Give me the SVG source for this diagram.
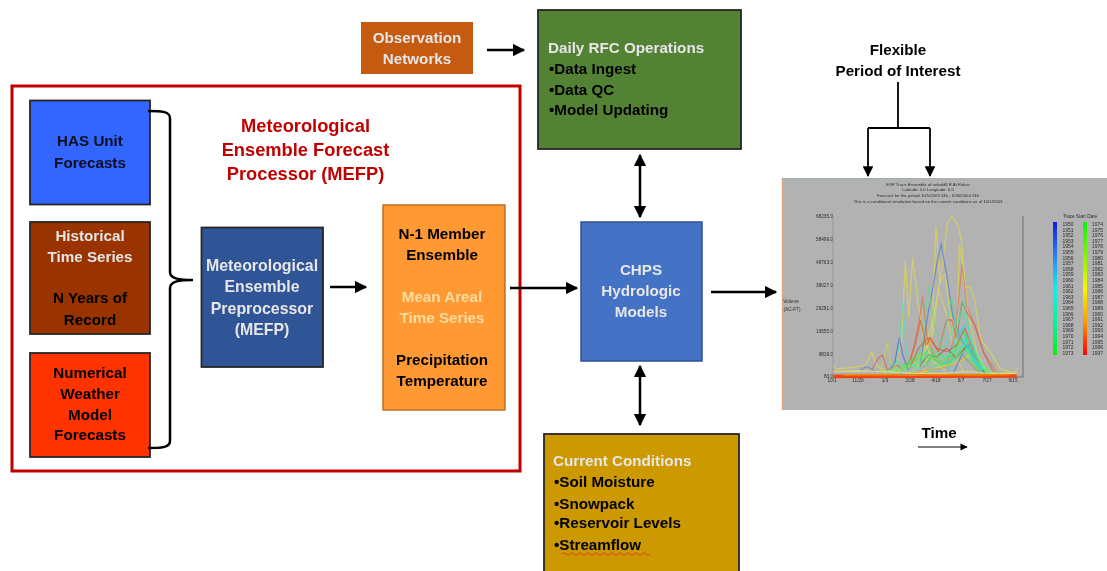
<svg xmlns="http://www.w3.org/2000/svg" width="1107" height="571" viewBox="0 0 1107 571">
<style>
text{font-family:"Liberation Sans",Arial,sans-serif;font-weight:700;font-size:15.2px;text-anchor:middle;fill:#000}
.w{fill:#e6e6e6}.b{fill:#0a1020}.red{fill:#c00000;font-size:18.300px}.m{font-size:15.900px}.o{fill:#ffdca0}
.l{text-anchor:start}
.box{stroke:#262626;stroke-width:1.800}
.c{fill:none;stroke:#000;stroke-width:2.500}
.t{font-weight:400;fill:#2c2c2c;font-size:4.250px}
.s{font-weight:400;fill:#2c2c2c;font-size:4.700px}
.e{text-anchor:end}
.y{font-weight:400;fill:#2c2c2c;font-size:5px;text-anchor:start}
.tr polyline{fill:none;stroke-width:3.800;stroke-opacity:.6;stroke-linejoin:round}
</style>
<defs>
<marker id="a" viewBox="0 0 10 10" refX="9" refY="5" markerWidth="5" markerHeight="5" orient="auto-start-reverse"><path d="M0 0L10 5L0 10z" fill="#000"/></marker>
<marker id="a2" viewBox="0 0 10 10" refX="9" refY="5" markerWidth="7" markerHeight="6" orient="auto"><path d="M0 0L10 5L0 10z" fill="#000"/></marker>
<linearGradient id="g1" x1="0" y1="0" x2="0" y2="1"><stop offset="0" stop-color="#0a1ee0"/><stop offset=".25" stop-color="#2a80f0"/><stop offset=".5" stop-color="#10f0f0"/><stop offset=".75" stop-color="#10f0a0"/><stop offset="1" stop-color="#10f010"/></linearGradient>
<linearGradient id="g2" x1="0" y1="0" x2="0" y2="1"><stop offset="0" stop-color="#10f010"/><stop offset=".5" stop-color="#f5f500"/><stop offset=".75" stop-color="#ff9a00"/><stop offset="1" stop-color="#ff0000"/></linearGradient>
<filter id="blur" x="-5%" y="-5%" width="110%" height="110%"><feGaussianBlur stdDeviation=".5"/></filter>
<filter id="soft" x="-5%" y="-20%" width="110%" height="140%"><feGaussianBlur stdDeviation=".3"/></filter>
</defs>

<g id="frame-mefp"><rect x="12" y="86" width="508" height="385" fill="#fff" stroke="#c00000" stroke-width="3"/>
<g filter="url(#soft)"><text class="red" x="305.500" y="132">Meteorological</text><text class="red" x="305.500" y="156">Ensemble Forecast</text><text class="red" x="305.500" y="180">Processor (MEFP)</text></g></g>

<g id="node-has"><rect class="box" x="30" y="100.500" width="120" height="104" fill="#3366ff"/>
<g filter="url(#soft)"><text class="b" x="90" y="146">HAS Unit</text><text class="b" x="90" y="168">Forecasts</text></g></g>

<g id="node-historical"><rect class="box" x="30" y="222" width="120" height="112" fill="#993300"/>
<g filter="url(#soft)"><text class="w" x="90" y="241">Historical</text><text class="w" x="90" y="262">Time Series</text><text x="90" y="303">N Years of</text><text x="90" y="325">Record</text></g></g>

<g id="node-nwp"><rect class="box" x="30" y="353" width="120" height="104" fill="#ff3300"/>
<g filter="url(#soft)"><text x="90" y="378">Numerical</text><text x="90" y="399">Weather</text><text x="90" y="420">Model</text><text x="90" y="440">Forecasts</text></g></g>

<g id="node-preprocessor"><rect class="box" x="201.500" y="227.500" width="121.500" height="139.500" fill="#2f5597"/>
<g filter="url(#soft)"><text class="w m" x="262" y="271">Meteorological</text><text class="w m" x="262" y="292">Ensemble</text><text class="w m" x="262" y="314">Preprocessor</text><text class="w m" x="262" y="335">(MEFP)</text></g></g>

<g id="node-ensemble"><rect x="383" y="205" width="122" height="205" fill="#ff9933" stroke="#bf7020" stroke-width="1.500"/>
<g filter="url(#soft)"><text x="442" y="239">N-1 Member</text><text x="442" y="260">Ensemble</text><text class="o" x="442" y="302">Mean Areal</text><text class="o" x="442" y="323">Time Series</text><text x="442" y="365">Precipitation</text><text x="442" y="386">Temperature</text></g></g>

<g id="node-chps"><rect x="581" y="222" width="121" height="139" fill="#4472c4" stroke="#2f528f" stroke-width="1.500"/>
<g filter="url(#soft)"><text class="w" x="641" y="275">CHPS</text><text class="w" x="641" y="296">Hydrologic</text><text class="w" x="641" y="317">Models</text></g></g>

<g id="node-observation"><rect x="361" y="22" width="112" height="52" fill="#c55a11"/>
<g filter="url(#soft)"><text class="w" x="417" y="43">Observation</text><text class="w" x="417" y="64">Networks</text></g></g>

<g id="node-daily"><rect class="box" x="538" y="10" width="203" height="139" fill="#548235"/>
<g filter="url(#soft)"><text class="w l" x="548" y="53">Daily RFC Operations</text><text class="l" x="549" y="74">•Data Ingest</text><text class="l" x="549" y="95">•Data QC</text><text class="l" x="549" y="115">•Model Updating</text></g></g>

<g id="node-current"><rect class="box" x="544" y="434" width="195" height="140" fill="#cc9900"/>
<g filter="url(#soft)"><text class="w l" x="553" y="466">Current Conditions</text><text class="l" x="554" y="487">•Soil Moisture</text><text class="l" x="554" y="509">•Snowpack</text><text class="l" x="554" y="528">•Reservoir Levels</text><text class="l" x="554" y="550">•Streamflow</text></g>
<path d="M562 554q2-2.500 4 0t4 0t4 0t4 0t4 0t4 0t4 0t4 0t4 0t4 0t4 0t4 0t4 0t4 0t4 0t4 0t4 0t4 0t4 0t4 0t4 0t4 0" fill="none" stroke="#e0402a" stroke-width="1"/></g>

<g id="chart">
<rect x="782" y="178" width="325" height="232" fill="#b2b2b2"/>
<path d="M782.500 410V178" stroke="#d8a884" stroke-width="1.500" fill="none"/>
<path d="M782 178.500H918" stroke="#a0b0b2" stroke-width="1" fill="none"/>
<g filter="url(#blur)">
<text class="t" x="928" y="186">ESP Trace Ensemble of unbold6 R At Palisa</text>
<text class="t" x="928" y="191">Latitude: 0.0    Longitude: 0.0</text>
<text class="t" x="928" y="197">Forecast for the period 10/1/2003 24h - 9/30/2004 24h</text>
<text class="t" x="928" y="202.500">This is a conditional simulation based on the current conditions as of 10/1/2003</text>
<text class="s e" x="833" y="218">68235.0</text><text class="s e" x="833" y="241">58499.0</text><text class="s e" x="833" y="264">48763.0</text><text class="s e" x="833" y="287">39027.0</text><text class="s e" x="833" y="310">29291.0</text><text class="s e" x="833" y="333">19555.0</text><text class="s e" x="833" y="356">9819.0</text><text class="s e" x="833" y="378">83.0</text>
<text class="s" x="791" y="303">Volume</text><text class="s" x="792" y="311">(AC-FT)</text>
<text class="s" x="832" y="382">10/1</text><text class="s" x="858" y="382">11/20</text><text class="s" x="885" y="382">1/9</text><text class="s" x="910" y="382">2/28</text><text class="s" x="936" y="382">4/18</text><text class="s" x="961" y="382">6/7</text><text class="s" x="987" y="382">7/27</text><text class="s" x="1013" y="382">9/15</text>
<path d="M833 216V377" fill="none" stroke="#909090" stroke-width=".8"/>
<path d="M1023 216V377H833" fill="none" stroke="#868686" stroke-width="1.500"/>
<g class="tr" transform="translate(800 205) scale(.33333)">
<polyline stroke="#e6e040" points="100,482 108,492 130,490 170,486 198,480 215,440 230,482 260,500 300,495 340,482 370,440 398,350 425,200 442,55 455,35 475,62 487,125 490,250 510,245 525,290 542,405 572,442 600,490 640,505 655,490"/>
<polyline stroke="#e6e040" points="285,495 305,400 316,170 326,335 338,160 354,292 372,405 400,470 440,500"/>
<polyline stroke="#e6e040" points="372,500 395,400 408,65 420,232 435,205 450,320 470,420 478,120 492,200 505,330 530,440 560,500"/>
<polyline stroke="#d8e050" points="355,490 400,380 415,250 440,330 462,440 490,500"/>
<polyline stroke="#b8e040" points="240,500 250,470 261,412 272,470 290,500"/>
<polyline stroke="#3f6fe0" points="360,485 385,320 396,265 410,180 423,115 440,210 458,330 482,402 510,442 540,490 570,505"/>
<polyline stroke="#2f5ce0" points="268,495 285,470 298,398 308,450 325,495"/>
<polyline stroke="#5080e0" points="180,495 200,485 225,498"/>
<polyline stroke="#e66a30" points="330,480 358,345 368,275 382,400 400,450 430,480"/>
<polyline stroke="#e06a50" points="440,480 465,390 486,180 500,300 520,350 552,445 590,500"/>
<polyline stroke="#ea4a20" points="320,490 345,420 362,345 378,420 392,398 415,440 440,345 455,345 470,400 486,292 505,330 525,360 550,440 580,500"/>
<polyline stroke="#e05040" points="215,495 235,460 247,450 262,495 290,480 310,495"/>
<polyline stroke="#40e0d0" points="285,495 298,420 308,290 320,450 345,495"/>
<polyline stroke="#50e090" points="340,495 370,400 385,245 400,340 420,430 445,330 455,275 470,380 490,285 515,420 550,490"/>
<polyline stroke="#30f0b0" points="350,500 380,440 410,470 440,410 470,350 490,320 510,390 530,460 560,505"/>
<polyline stroke="#20e0f0" points="420,500 460,420 480,370 500,400 520,470 550,505"/>
<polyline stroke="#20d0e8" points="440,505 475,400 492,360 510,440 540,500"/>
<polyline stroke="#30f080" points="260,500 290,470 320,490 350,450 380,470 410,440 440,460 470,420 500,440 530,490 570,505"/>
<polyline stroke="#50f050" points="300,505 340,460 370,440 395,470 420,450 450,470 480,400 510,460 545,505"/>
<polyline stroke="#40f030" points="280,505 320,475 360,460 390,430 420,470 460,450 490,380 520,450 560,500"/>
<polyline stroke="#a0f040" points="330,505 365,470 400,455 430,480 465,460 495,420 530,480 570,505"/>
<polyline stroke="#e8e020" points="360,505 400,490 440,480 480,470 510,450 540,480 580,505"/>
<polyline stroke="#f0a020" points="340,505 380,495 420,490 460,480 490,460 520,480 550,505"/>
<polyline stroke="#e05020" points="330,490 355,430 385,398 410,430 440,440 470,420 495,370 520,440 545,495"/>
<polyline stroke="#c04020" points="360,480 385,450 410,455 440,430 470,460 500,420 530,475 555,505"/>
<polyline stroke="#40c070" points="370,490 395,455 425,480 450,470 480,440 505,470 540,505"/>
<polyline stroke="#2080d0" points="460,505 490,440 505,420 525,470 555,505"/>
<polyline stroke="#30f0a0" points="300,500 345,480 390,450 430,455 470,440 510,400 540,470 570,505"/>
<polyline stroke="#60f060" points="250,505 300,490 350,475 400,480 450,480 500,430 540,490 590,505"/>
<polyline stroke="#20e8c0" points="380,505 420,475 460,470 490,420 520,440 545,495"/>
<polyline stroke="#f0f060" points="100,500 170,498 250,500 340,505 420,505 500,500 580,505 650,505"/>
<polyline stroke="#30e0e0" style="stroke-width:10" points="490,400 505,430 525,470 550,495"/>
<polyline stroke="#ff3a00" style="stroke-width:11;stroke-opacity:.9" points="100,514 650,513"/>
<polyline stroke="#f09000" style="stroke-width:4;stroke-opacity:.9" points="130,510 240,509 330,511 420,509 520,510 630,509"/>
</g>
<text class="s" x="1080" y="218">Trace Start Date</text>
<rect x="1053" y="222" width="4" height="133" fill="url(#g1)"/>
<rect x="1083" y="222" width="4" height="133" fill="url(#g2)"/>
<g>
<text class="y" x="1062.500" y="226">1950</text><text class="y" x="1062.500" y="231.600">1951</text><text class="y" x="1062.500" y="237.200">1952</text><text class="y" x="1062.500" y="242.800">1953</text><text class="y" x="1062.500" y="248.400">1954</text><text class="y" x="1062.500" y="254">1955</text><text class="y" x="1062.500" y="259.600">1956</text><text class="y" x="1062.500" y="265.200">1957</text><text class="y" x="1062.500" y="270.800">1958</text><text class="y" x="1062.500" y="276.400">1959</text><text class="y" x="1062.500" y="282">1960</text><text class="y" x="1062.500" y="287.600">1961</text><text class="y" x="1062.500" y="293.200">1962</text><text class="y" x="1062.500" y="298.800">1963</text><text class="y" x="1062.500" y="304.400">1964</text><text class="y" x="1062.500" y="310">1965</text><text class="y" x="1062.500" y="315.600">1966</text><text class="y" x="1062.500" y="321.200">1967</text><text class="y" x="1062.500" y="326.800">1968</text><text class="y" x="1062.500" y="332.400">1969</text><text class="y" x="1062.500" y="338">1970</text><text class="y" x="1062.500" y="343.600">1971</text><text class="y" x="1062.500" y="349.200">1972</text><text class="y" x="1062.500" y="354.800">1973</text>
<text class="y" x="1092" y="226">1974</text><text class="y" x="1092" y="231.600">1975</text><text class="y" x="1092" y="237.200">1976</text><text class="y" x="1092" y="242.800">1977</text><text class="y" x="1092" y="248.400">1978</text><text class="y" x="1092" y="254">1979</text><text class="y" x="1092" y="259.600">1980</text><text class="y" x="1092" y="265.200">1981</text><text class="y" x="1092" y="270.800">1982</text><text class="y" x="1092" y="276.400">1983</text><text class="y" x="1092" y="282">1984</text><text class="y" x="1092" y="287.600">1985</text><text class="y" x="1092" y="293.200">1986</text><text class="y" x="1092" y="298.800">1987</text><text class="y" x="1092" y="304.400">1988</text><text class="y" x="1092" y="310">1989</text><text class="y" x="1092" y="315.600">1990</text><text class="y" x="1092" y="321.200">1991</text><text class="y" x="1092" y="326.800">1992</text><text class="y" x="1092" y="332.400">1993</text><text class="y" x="1092" y="338">1994</text><text class="y" x="1092" y="343.600">1995</text><text class="y" x="1092" y="349.200">1996</text><text class="y" x="1092" y="354.800">1997</text></g>
</g>
</g>

<g id="labels" filter="url(#soft)">
<text x="898" y="55">Flexible</text><text x="898" y="76">Period of Interest</text><text x="939" y="438">Time</text>
</g>

<g id="connectors">
<path class="c" d="M148 111C160 111 170 111 170 118V272C170 279 180 280 193 280C180 280 170 281 170 288V441C170 448 160 448 148 448"/>
<path class="c" d="M487 50H524" marker-end="url(#a)"/>
<path class="c" d="M330 287H366" marker-end="url(#a)"/>
<path class="c" d="M510 288H577" marker-end="url(#a)"/>
<path class="c" d="M711 292H776" marker-end="url(#a)"/>
<path class="c" d="M640 155V217" marker-start="url(#a)" marker-end="url(#a)"/>
<path class="c" d="M640 366V425" marker-start="url(#a)" marker-end="url(#a)"/>
<path d="M898 82V128M868 128H930" fill="none" stroke="#000" stroke-width="1.800"/>
<path d="M868 128V176" fill="none" stroke="#000" stroke-width="1.800" marker-end="url(#a2)"/>
<path d="M930 128V176" fill="none" stroke="#000" stroke-width="1.800" marker-end="url(#a2)"/>
<path d="M918 447H967" fill="none" stroke="#000" stroke-width="1.200" marker-end="url(#a2)"/>
</g>
</svg>
